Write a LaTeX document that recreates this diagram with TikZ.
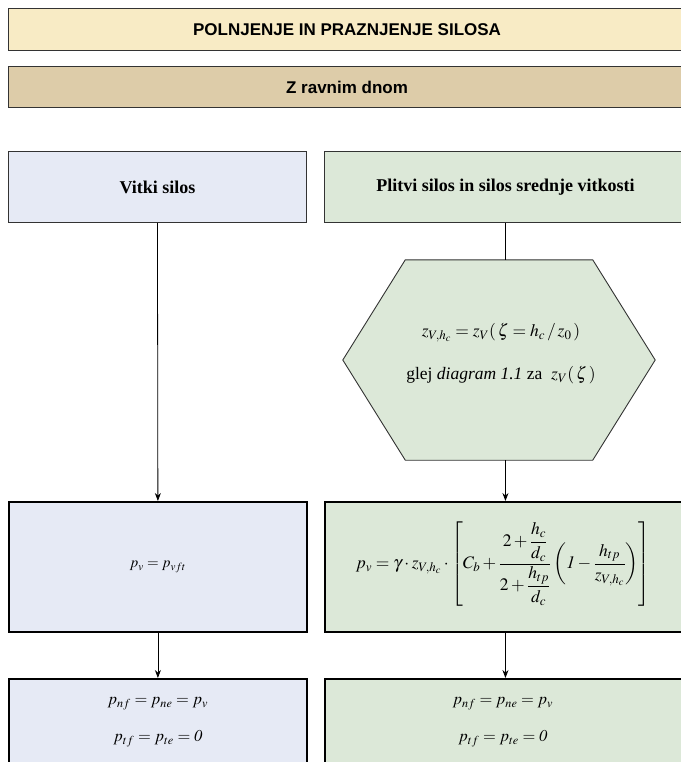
\documentclass[tikz,border=0pt]{standalone}
\usepackage{amsmath}
\usepackage{mathptmx}
\usepackage[no-math]{fontspec}
\setmainfont{Liberation Serif}
\newfontfamily\headfont{Liberation Sans}
\usetikzlibrary{arrows.meta,calc,backgrounds}
\definecolor{titlefill}{HTML}{F8EBC5}
\definecolor{subfill}{HTML}{DDCCA9}
\definecolor{leftfill}{HTML}{E6EAF5}
\definecolor{rightfill}{HTML}{DCE8D8}
\definecolor{edge}{HTML}{333333}
\begin{document}
\begin{tikzpicture}[x=1pt,y=-1pt,
  headbox/.style={draw=edge,line width=1.1pt,anchor=north west,inner sep=0pt,minimum width=677pt,
     font=\headfont\bfseries\fontsize{17}{20}\selectfont},
  thinbox/.style={draw=edge,line width=0.9pt,anchor=north west,inner sep=0pt,minimum height=71pt,
     font=\bfseries\fontsize{18}{21}\selectfont},
  thickbox/.style={draw=black,line width=1.8pt,anchor=north west,inner sep=0pt},
  conn/.style={draw=black,line width=0.8pt,-{Stealth[length=8pt,width=6pt]}},
  plainline/.style={draw=black,line width=0.8pt}]
\useasboundingbox (0,0) rectangle (680,762);

\node[headbox,fill=titlefill,minimum height=42pt] (title) at (8,8) {POLNJENJE IN PRAZNJENJE SILOSA};
\node[headbox,fill=subfill,minimum height=41pt] (sub) at (8,66) {Z ravnim dnom};

\node[thinbox,fill=leftfill,minimum width=298pt] (vit) at (8,151) {Vitki silos};
\node[thinbox,fill=rightfill,minimum width=362pt] (pli) at (324,151) {Plitvi silos in silos srednje vitkosti};

\node[inner sep=0pt,minimum width=312pt,minimum height=200pt] (hex) at (499,360) {};
\begin{scope}[on background layer]
\draw[draw=edge,line width=0.9pt,fill=rightfill]
  ($(hex.north west)!0.2!(hex.north east)$) -- ($(hex.north west)!0.8!(hex.north east)$)
  -- (hex.east) -- ($(hex.south west)!0.8!(hex.south east)$)
  -- ($(hex.south west)!0.2!(hex.south east)$) -- (hex.west) -- cycle;
\end{scope}
\node[inner sep=0pt,align=center,font=\fontsize{17.5}{43}\selectfont] (hextext) at (501,354)
  {$z_{V,h_c} = z_V(\,\zeta = h_c\,/\,z_0\,)$\\ glej \textit{diagram 1.1} za\ \ $z_V(\,\zeta\,)$};

\node[thickbox,fill=leftfill,minimum width=298pt,minimum height=130pt,font=\fontsize{15}{17}\selectfont] (pvL) at (8,501)
  {$p_v = p_{vft}$};
\node[thickbox,fill=rightfill,minimum width=362pt,minimum height=130pt] (pvR) at (324,501) {};
\node[font=\fontsize{17.5}{21}\selectfont] (pvRtext) at (503,564)
  {$\displaystyle p_v = \gamma\cdot z_{V,h_c}\cdot\left[C_b+\frac{2+\dfrac{h_c}{d_c}}{2+\dfrac{h_{tp}}{d_c}}\left(\mathit{1}-\frac{h_{tp}}{z_{V,h_c}}\right)\right]$};

\node[thickbox,fill=leftfill,minimum width=298pt,minimum height=87pt,align=center,font=\fontsize{16.5}{37}\selectfont] (botL) at (8,678)
  {$p_{nf} = p_{ne} = p_v$\\ $p_{tf} = p_{te} = \mathit{0}$};
\node[thickbox,fill=rightfill,minimum width=362pt,minimum height=87pt,align=center,font=\fontsize{16.5}{37}\selectfont] (botR) at (324,678)
  {\hspace*{-6pt}$p_{nf} = p_{ne} = p_v$\\ \hspace*{-6pt}$p_{tf} = p_{te} = \mathit{0}$};

\draw[conn] (vit.south) -- (pvL.north);
\draw[plainline] (pli.south) -- (pli.south |- hex.north);
\draw[conn] (hex.south -| pli.south) -- (pvR.north -| pli.south);
\draw[conn] (pvL.south) -- (botL.north);
\draw[conn] (pvR.south -| pli.south) -- (botR.north -| pli.south);
\end{tikzpicture}
\end{document}
